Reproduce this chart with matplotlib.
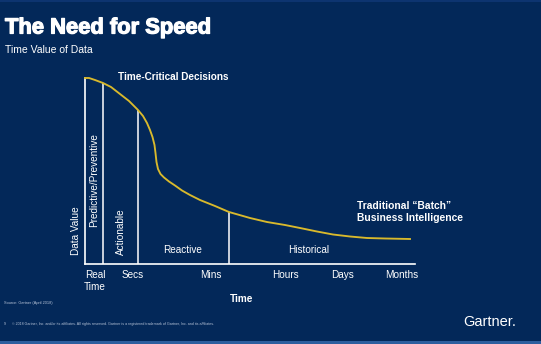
import matplotlib
matplotlib.use("Agg")
import matplotlib.pyplot as plt
import numpy as np
import matplotlib.patheffects as pe

plt.rcParams['font.family'] = ['Liberation Sans', 'DejaVu Sans']

# ---- data ----
curve_x = [0, 4, 10, 18, 26, 35, 44, 53, 58, 62, 65, 67.5, 69.5, 70.5, 71.5, 73, 75.5, 79, 84, 90, 97, 105,
           115, 130, 144, 165, 182, 200, 215, 232, 248, 265, 282, 300, 325]
curve_y = [186, 186, 184, 181, 177, 170, 163, 154, 148, 141, 134, 127, 119, 111, 102, 95, 90, 86.5, 82.5, 78.5,
           73.5, 69, 64, 58, 52, 46, 42, 39, 36, 32.5, 29.5, 27.5, 26, 25.5, 25]
tick_pos = [10, 48, 126, 200, 258, 317]
tick_labels = ["Real\nTime", "Secs", "Mins", "Hours", "Days", "Months"]
divider_x = [18, 53, 144]
zone_labels = ["Reactive", "Historical"]
zone_pos = [98, 224]

BG = '#032859'
W, H = 541, 344
fig = plt.figure(figsize=(W / 100, H / 100), dpi=100, facecolor=BG)

def fx(px):
    return px / W

def fy(py):
    return 1 - py / H

# decorative top/bottom strips
fig.add_artist(plt.Rectangle((0, fy(2)), 1, 2 / H, transform=fig.transFigure, color='#0d3470', lw=0))
fig.add_artist(plt.Rectangle((0, 0), 1, 3 / H, transform=fig.transFigure, color='#2d5e9e', lw=0))

ax = fig.add_axes([fx(85), fy(264), (415 - 85) / W, (264 - 78) / H])
ax.set_facecolor(BG)
ax.set_xlim(0, 330)
ax.set_ylim(0, 186)
for s in ['top', 'right']:
    ax.spines[s].set_visible(False)
for s in ['left', 'bottom']:
    ax.spines[s].set_color('white')
    ax.spines[s].set_linewidth(1.2)

ax.plot(curve_x, curve_y, color='#d9b92c', lw=1.35, clip_on=False, zorder=3, solid_joinstyle='round')
for dx in divider_x:
    ax.vlines(dx, 0, np.interp(dx, curve_x, curve_y), color='white', lw=1.1, zorder=2)

ax.set_xticks(tick_pos)
ax.set_xticklabels(tick_labels, color='white', fontsize=7.2, linespacing=1.35)
ax.tick_params(axis='x', length=0, pad=4)
ax.set_yticks([])

for lbl, p in zip(zone_labels, zone_pos):
    ax.text(p, 14, lbl, color='white', fontsize=7.2, ha='center', va='center')

ax.text(9, 84, "Predictive/Preventive", rotation=90, color='white', fontsize=7.2, ha='center', va='center')
ax.text(36, 32, "Actionable", rotation=90, color='white', fontsize=7.2, ha='center', va='center')
ax.text(-9, 33, "Data Value", rotation=90, color='white', fontsize=7.2, ha='center', va='center', clip_on=False)

# titles and annotations
fig.text(fx(5), fy(28), "The Need for Speed", color='white', fontsize=15.8, fontweight='bold', va='center', ha='left',
         path_effects=[pe.withStroke(linewidth=0.9, foreground='white')])
fig.text(fx(5), fy(50), "Time Value of Data", color='white', fontsize=7.5, va='center', ha='left')
fig.text(fx(173), fy(77), "Time-Critical Decisions", color='white', fontsize=7.2, fontweight='bold', va='center', ha='center')
fig.text(fx(357), fy(212), "Traditional \u201cBatch\u201d\nBusiness Intelligence", color='white', fontsize=7.4,
         fontweight='bold', va='center', ha='left', linespacing=1.3)
fig.text(fx(242), fy(299), "Time", color='white', fontsize=7.2, fontweight='bold', va='center', ha='center')

fig.text(fx(4), fy(303), "Source: Gartner (April 2018)", color='#b8c4d8', fontsize=2.8, va='center', ha='left')
fig.text(fx(4), fy(324), "9      \u00a9 2018 Gartner, Inc. and/or its affiliates. All rights reserved. Gartner is a registered trademark of Gartner, Inc. and its affiliates.",
         color='#b8c4d8', fontsize=2.6, va='center', ha='left')
fig.text(fx(516), fy(322), "Gartner.", color='white', fontsize=10.5, va='center', ha='right')

fig.savefig("out.png", dpi=100, facecolor=BG)
